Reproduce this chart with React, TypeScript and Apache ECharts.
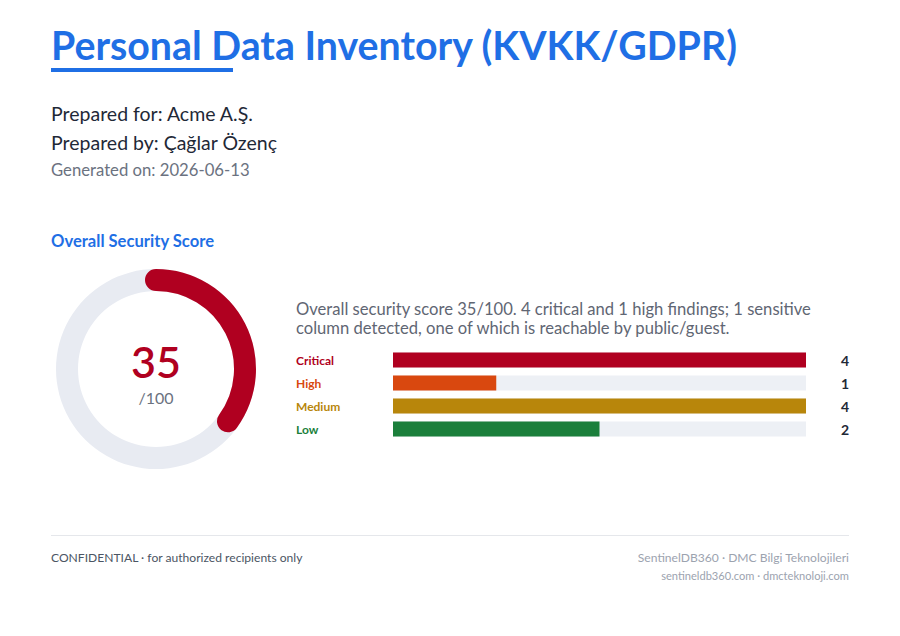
import React, { useEffect, useRef } from "react";
import * as echarts from "echarts";

// Report header
const reportTitle = "Personal Data Inventory (KVKK/GDPR)";
const preparedFor = "Prepared for: Acme A.Ş.";
const preparedBy = "Prepared by: Çağlar Özenç";
const generatedOn = "Generated on: 2026-06-13";
const sectionTitle = "Overall Security Score";
const summaryLines = [
  "Overall security score 35/100. 4 critical and 1 high findings; 1 sensitive",
  "column detected, one of which is reachable by public/guest.",
];

// Score
const score = 35;
const scoreMax = 100;

// Findings by severity
const severities = ["Critical", "High", "Medium", "Low"];
const findingCounts = [4, 1, 4, 2];
const severityColors = ["#b00020", "#d9480f", "#b8860b", "#1b7f3b"];

// Footer
const footerLeft = "CONFIDENTIAL · for authorized recipients only";
const footerRight1 = "SentinelDB360 · DMC Bilgi Teknolojileri";
const footerRight2 = "sentineldb360.com · dmcteknoloji.com";

const FONT = "Lato, 'Noto Sans', sans-serif";
const BLUE = "#1f6fe5";

export default function App() {
  const ref = useRef<HTMLDivElement>(null);

  useEffect(() => {
    if (!ref.current) return;
    const chart = echarts.init(ref.current, undefined, { renderer: "svg" });

    const text = (
      x: number,
      y: number,
      t: string,
      size: number,
      fill: string,
      weight: string | number = "normal",
      align: "left" | "right" = "left"
    ) => ({
      type: "text",
      x,
      y,
      style: {
        text: t,
        fill,
        fontSize: size,
        fontWeight: weight,
        fontFamily: FONT,
        align,
        verticalAlign: "middle",
      },
    });

    const maxCount = Math.max(...findingCounts);

    const option: any = {
      animation: false,
      backgroundColor: "#ffffff",
      graphic: [
        text(51, 44, reportTitle, 39.3, BLUE, 700),
        {
          type: "rect",
          shape: { x: 51, y: 68, width: 182, height: 4 },
          style: { fill: BLUE },
        },
        text(51, 113, preparedFor, 19.5, "#1f2937"),
        text(51, 142, preparedBy, 19.5, "#1f2937"),
        text(51, 170, generatedOn, 16.7, "#6b7280"),
        text(51, 241, sectionTitle, 16.6, BLUE, 700),
        text(296, 309, summaryLines[0], 16.6, "#5f6673"),
        text(296, 328, summaryLines[1], 16.6, "#5f6673"),
        {
          type: "line",
          shape: { x1: 51, y1: 535.5, x2: 849, y2: 535.5 },
          style: { stroke: "#e5e7eb", lineWidth: 1 },
        },
        text(51, 557, footerLeft, 12.1, "#4b5563"),
        text(849, 557, footerRight1, 12.1, "#9ca3af", "normal", "right"),
        text(849, 575, footerRight2, 11.1, "#9ca3af", "normal", "right"),
      ],
      grid: {
        left: 393,
        right: 94,
        top: 348.5,
        height: 92,
        containLabel: false,
      },
      xAxis: {
        type: "value",
        min: 0,
        max: maxCount,
        show: false,
      },
      yAxis: [
        {
          type: "category",
          data: severities,
          inverse: true,
          axisLine: { show: false },
          axisTick: { show: false },
          axisLabel: {
            align: "left",
            margin: 97,
            fontFamily: FONT,
            fontSize: 12,
            fontWeight: 700,
            color: (_v: string, i: number) => severityColors[i],
          },
        },
        {
          type: "category",
          data: findingCounts.map(String),
          inverse: true,
          position: "right",
          axisLine: { show: false },
          axisTick: { show: false },
          axisLabel: {
            align: "right",
            margin: 43,
            fontFamily: FONT,
            fontSize: 14,
            fontWeight: 700,
            color: "#1f2937",
          },
        },
      ],
      series: [
        {
          type: "bar",
          yAxisIndex: 0,
          barWidth: 15,
          data: findingCounts.map((v, i) => ({
            value: v,
            itemStyle: { color: severityColors[i] },
          })),
          showBackground: true,
          backgroundStyle: { color: "#edf0f5" },
        },
        {
          type: "gauge",
          center: [156, 369],
          radius: 100,
          startAngle: 90,
          endAngle: -270,
          min: 0,
          max: scoreMax,
          pointer: { show: false },
          progress: {
            show: true,
            roundCap: true,
            width: 22,
            itemStyle: { color: "#b00020" },
          },
          axisLine: {
            lineStyle: { width: 22, color: [[1, "#e8ebf2"]] },
          },
          splitLine: { show: false },
          axisTick: { show: false },
          axisLabel: { show: false },
          title: { show: false },
          detail: {
            offsetCenter: [0, 3],
            fontWeight: "normal",
            formatter: (v: number) => `{a|${v}}\n{b|/${scoreMax}}`,
            rich: {
              a: {
                fontFamily: FONT,
                fontSize: 43,
                fontWeight: 600,
                color: "#b00020",
                lineHeight: 50,
              },
              b: {
                fontFamily: FONT,
                fontSize: 16,
                fontWeight: "normal",
                color: "#6b7280",
                lineHeight: 22,
              },
            },
          },
          data: [{ value: score }],
        },
      ],
    };

    chart.setOption(option);
    return () => chart.dispose();
  }, []);

  return (
    <div
      ref={ref}
      style={{ position: "fixed", left: 0, top: 0, width: 900, height: 636 }}
    />
  );
}
